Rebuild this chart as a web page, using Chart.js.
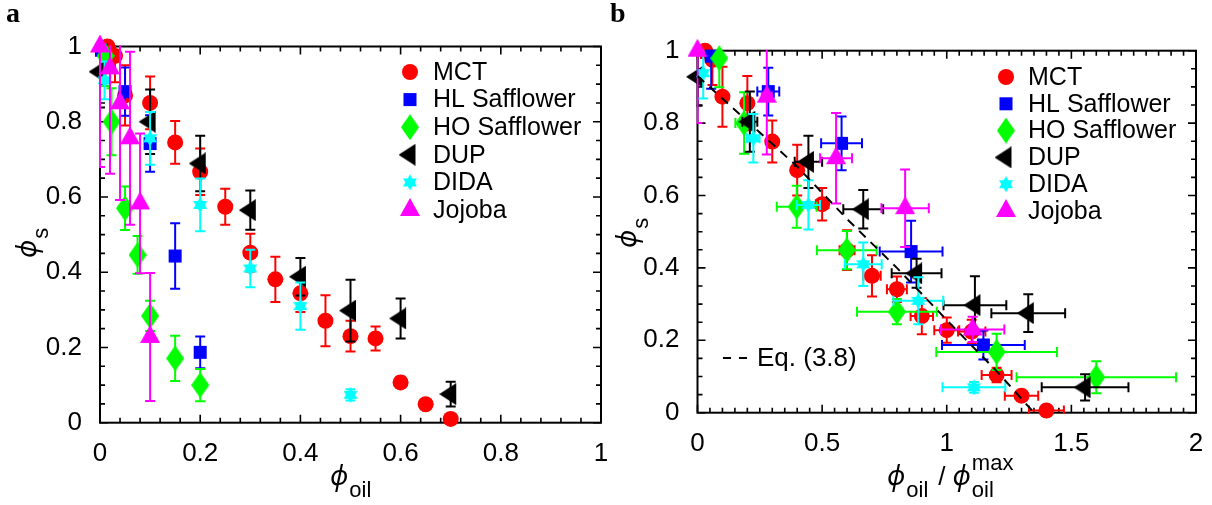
<!DOCTYPE html>
<html>
<head>
<meta charset="utf-8">
<script src="https://cdn.jsdelivr.net/npm/chart.js@4.4.1/dist/chart.umd.min.js"></script>
<style>
  body { margin: 0; background: #fff; }
  canvas { position: absolute; top: 0; }
  #panelA { left: 0; }
  #panelB { left: 606px; }
</style>
</head>
<body>
<canvas id="panelA" width="622" height="505"></canvas>
<canvas id="panelB" width="606" height="505"></canvas>
<script>
// legend order
const seriesNames = ['MCT', 'HL Safflower', 'HO Safflower', 'DUP', 'DIDA', 'Jojoba'];
const seriesColors = ['#ff0000', '#0000ff', '#00ff00', '#000000', '#00ffff', '#ff00ff'];

// --- panel a: phi_s vs phi_oil ---
const mctA_x = [0.015, 0.03, 0.05, 0.1, 0.15, 0.2, 0.25, 0.3, 0.35, 0.4, 0.45, 0.5, 0.55, 0.6, 0.65, 0.7];
const mctA_y = [1.0, 0.975, 0.87, 0.85, 0.745, 0.667, 0.574, 0.452, 0.381, 0.344, 0.271, 0.23, 0.224, 0.107, 0.049, 0.01];
const mctA_ey = [0.02, 0.07, 0.08, 0.07, 0.057, 0.062, 0.048, 0.05, 0.06, 0.05, 0.068, 0.041, 0.032, 0.015, 0.01, 0.005];

const hlA_x = [0.003, 0.05, 0.1, 0.15, 0.2];
const hlA_y = [0.99, 0.88, 0.742, 0.443, 0.187];
const hlA_ey = [0.04, 0.064, 0.075, 0.087, 0.042];

const hoA_x = [0.011, 0.023, 0.05, 0.075, 0.1, 0.15, 0.2];
const hoA_y = [0.975, 0.8, 0.57, 0.446, 0.284, 0.171, 0.1];
const hoA_ey = [0.08, 0.089, 0.058, 0.05, 0.04, 0.06, 0.043];

const dupA_x = [0.0, 0.1, 0.2, 0.3, 0.4, 0.5, 0.6, 0.7];
const dupA_y = [0.933, 0.8, 0.689, 0.565, 0.388, 0.298, 0.277, 0.076];
const dupA_ey = [0.095, 0.086, 0.074, 0.052, 0.05, 0.082, 0.053, 0.033];

const didaA_x = [0.009, 0.1, 0.2, 0.3, 0.4, 0.5];
const didaA_y = [0.91, 0.756, 0.579, 0.41, 0.31, 0.074];
const didaA_ey = [0.05, 0.07, 0.07, 0.05, 0.063, 0.015];

const jojA_x = [0.0, 0.02, 0.04, 0.06, 0.08, 0.1];
const jojA_y = [1.0, 0.942, 0.849, 0.756, 0.583, 0.228];
const jojA_ey = [0.32, 0.28, 0.257, 0.23, 0.186, 0.17];

// --- panel b: phi_s vs phi_oil / phi_oil^max ---
const mctB_x = [0.03, 0.06, 0.1, 0.2, 0.3, 0.4, 0.5, 0.6, 0.7, 0.8, 0.9, 1.0, 1.1, 1.2, 1.3, 1.4];
const mctB_y = [1.0, 0.975, 0.873, 0.855, 0.749, 0.67, 0.576, 0.449, 0.378, 0.341, 0.267, 0.228, 0.224, 0.104, 0.047, 0.006];
const mctB_ex = [0.002, 0.003, 0.005, 0.01, 0.015, 0.02, 0.025, 0.03, 0.035, 0.04, 0.045, 0.05, 0.055, 0.06, 0.067, 0.07];
const mctB_ey = [0.02, 0.07, 0.083, 0.075, 0.058, 0.07, 0.045, 0.055, 0.057, 0.035, 0.05, 0.035, 0.033, 0.02, 0.012, 0.005];

const hlB_x = [0.055, 0.284, 0.578, 0.857, 1.147];
const hlB_y = [0.985, 0.887, 0.744, 0.445, 0.187];
const hlB_ex = [0.003, 0.044, 0.082, 0.126, 0.166];
const hlB_ey = [0.09, 0.066, 0.074, 0.085, 0.04];

const hoB_x = [0.0875, 0.187, 0.398, 0.599, 0.8, 1.2, 1.6];
const hoB_y = [0.979, 0.8, 0.569, 0.449, 0.279, 0.168, 0.098];
const hoB_ex = [0.015, 0.035, 0.08, 0.12, 0.16, 0.242, 0.32];
const hoB_ey = [0.08, 0.085, 0.058, 0.053, 0.035, 0.05, 0.044];

const dupB_x = [0.0, 0.21, 0.445, 0.665, 0.879, 1.113, 1.327, 1.555];
const dupB_y = [0.928, 0.804, 0.693, 0.562, 0.385, 0.297, 0.275, 0.07];
const dupB_ex = [0.0, 0.03, 0.055, 0.08, 0.1, 0.126, 0.148, 0.174];
const dupB_ey = [0.08, 0.083, 0.072, 0.053, 0.04, 0.08, 0.052, 0.036];

const didaB_x = [0.023, 0.224, 0.445, 0.665, 0.886, 1.109];
const didaB_y = [0.938, 0.758, 0.574, 0.41, 0.309, 0.07];
const didaB_ex = [0.002, 0.025, 0.047, 0.074, 0.1, 0.126];
const didaB_ey = [0.07, 0.067, 0.068, 0.06, 0.065, 0.015];

const jojB_x = [0.0, 0.278, 0.556, 0.833, 1.104];
const jojB_y = [1.0, 0.873, 0.703, 0.565, 0.23];
const jojB_ex = [0.0, 0.02, 0.064, 0.095, 0.127];
const jojB_ey = [0.2, 0.16, 0.125, 0.107, 0.035];

// Eq. (3.8) curve
const eqX = [0, 0.2, 0.4, 0.6, 0.8, 1.0, 1.2, 1.35];
const eqY = [0.93, 0.805, 0.68, 0.535, 0.4, 0.256, 0.115, 0.0];

Chart.defaults.font.family = '"Liberation Sans", Arial, sans-serif';
Chart.defaults.color = '#000';

// filled marker shapes drawn once to small canvases
function shapeCanvas(w, h, color, polys) {
  const c = document.createElement('canvas');
  c.width = w; c.height = h;
  const g = c.getContext('2d');
  g.fillStyle = color;
  polys.forEach(p => {
    g.beginPath();
    p.forEach(([px, py], i) => i ? g.lineTo(px, py) : g.moveTo(px, py));
    g.closePath();
    g.fill();
  });
  return c;
}
const diamondMark = shapeCanvas(18, 26, '#00ff00', [[[9, 0], [18, 13], [9, 26], [0, 13]]]);
// triangles are padded so the centroid lands on the data point
const dupMark = shapeCanvas(23, 22, '#000000', [[[0, 11], [17, 0], [17, 22]]]);
const jojMark = shapeCanvas(20, 24, '#ff00ff', [[[10, 0], [20, 18], [0, 18]]]);
const didaMark = shapeCanvas(14, 16, '#00ffff', [[[7, 0], [14, 12], [0, 12]], [[0, 4], [14, 4], [7, 16]]]);

const seriesStyles = ['circle', 'rect', diamondMark, dupMark, didaMark, jojMark];
const seriesRadii = [8, 9.2, 9, 9, 9, 9];

function zip(xs, ys) {
  return xs.map((x, i) => ({x: x, y: ys[i]}));
}

function series(i, xs, ys, ey, ex) {
  return {
    label: seriesNames[i],
    data: zip(xs, ys),
    errY: ey,
    errX: ex,
    order: 6 - i,
    pointStyle: seriesStyles[i],
    pointRadius: seriesRadii[i],
    pointHoverRadius: seriesRadii[i],
    pointBorderWidth: 0,
    backgroundColor: seriesColors[i],
    borderColor: seriesColors[i],
    clip: false
  };
}

// box frame with inward major/minor ticks on all four sides
const frameTicks = {
  id: 'frameTicks',
  beforeDatasetsDraw(chart, args, opts) {
    const {ctx, chartArea: a} = chart;
    const sx = chart.scales.x, sy = chart.scales.y;
    ctx.save();
    ctx.strokeStyle = '#000';
    ctx.lineWidth = 2;
    ctx.strokeRect(a.left, a.top, a.right - a.left, a.bottom - a.top);
    ctx.lineWidth = 1.6;
    ctx.beginPath();
    const xMajor = sx.options.ticks.stepSize, yMajor = sy.options.ticks.stepSize;
    const nx = Math.round((sx.max - sx.min) / opts.xMinor);
    const kx = Math.round(xMajor / opts.xMinor);
    for (let i = 0; i <= nx; i++) {
      const px = sx.getPixelForValue(sx.min + i * opts.xMinor);
      const len = i % kx === 0 ? 8 : 5;
      ctx.moveTo(px, a.bottom); ctx.lineTo(px, a.bottom - len);
      ctx.moveTo(px, a.top); ctx.lineTo(px, a.top + len);
    }
    const ny = Math.round((sy.max - sy.min) / opts.yMinor);
    const ky = Math.round(yMajor / opts.yMinor);
    for (let i = 0; i <= ny; i++) {
      const py = sy.getPixelForValue(sy.min + i * opts.yMinor);
      const len = i % ky === 0 ? 8 : 5;
      ctx.moveTo(a.left, py); ctx.lineTo(a.left + len, py);
      ctx.moveTo(a.right, py); ctx.lineTo(a.right - len, py);
    }
    ctx.stroke();
    ctx.restore();
  }
};

// capped error bars, drawn just under each dataset's markers
const errorBars = {
  id: 'errorBars',
  beforeDatasetDraw(chart, args) {
    const ds = chart.data.datasets[args.index];
    if (!ds.errY && !ds.errX) return;
    const {ctx, chartArea: a} = chart;
    const sx = chart.scales.x, sy = chart.scales.y;
    const cap = 5;
    ctx.save();
    ctx.beginPath();
    ctx.rect(a.left - 1, a.top - 1, a.right - a.left + 2, a.bottom - a.top + 2);
    ctx.clip();
    ctx.strokeStyle = ds.backgroundColor;
    ctx.lineWidth = 2;
    ctx.beginPath();
    ds.data.forEach((p, i) => {
      const px = sx.getPixelForValue(p.x), py = sy.getPixelForValue(p.y);
      const ey = ds.errY ? ds.errY[i] : 0;
      if (ey > 0) {
        const y1 = sy.getPixelForValue(p.y + ey), y2 = sy.getPixelForValue(p.y - ey);
        ctx.moveTo(px, y1); ctx.lineTo(px, y2);
        ctx.moveTo(px - cap, y1); ctx.lineTo(px + cap, y1);
        ctx.moveTo(px - cap, y2); ctx.lineTo(px + cap, y2);
      }
      const ex = ds.errX ? ds.errX[i] : 0;
      if (ex > 0) {
        const x1 = sx.getPixelForValue(p.x - ex), x2 = sx.getPixelForValue(p.x + ex);
        ctx.moveTo(x1, py); ctx.lineTo(x2, py);
        ctx.moveTo(x1, py - cap); ctx.lineTo(x1, py + cap);
        ctx.moveTo(x2, py - cap); ctx.lineTo(x2, py + cap);
      }
    });
    ctx.stroke();
    ctx.restore();
  }
};

function seriesLegend(mx, tx, y0, dy) {
  return {
    id: 'seriesLegend',
    afterDatasetsDraw(chart) {
      const ctx = chart.ctx;
      ctx.save();
      ctx.font = '25px "Liberation Sans"';
      ctx.textBaseline = 'middle';
      seriesNames.forEach((name, i) => {
        const y = y0 + i * dy;
        ctx.fillStyle = seriesColors[i];
        Chart.helpers.drawPoint(ctx, {pointStyle: seriesStyles[i], radius: seriesRadii[i], borderWidth: 0, rotation: 0}, mx, y);
        ctx.fillStyle = '#000';
        ctx.fillText(name, tx, y + 1);
      });
      ctx.restore();
    }
  };
}

// phi with a subscript and an optional superscript; returns the end x
function phiSymbol(ctx, x, y, sub, sup) {
  ctx.font = 'italic 27px "Noto Sans", "DejaVu Sans"';
  ctx.fillText('\u03D5', x, y);
  const w = ctx.measureText('\u03D5').width;
  ctx.font = '22px "Liberation Sans"';
  const sx = x + w + 1;
  ctx.fillText(sub, sx, y + 12);
  let end = sx + ctx.measureText(sub).width;
  if (sup) {
    ctx.fillText(sup, sx, y - 15);
    end = Math.max(end, sx + ctx.measureText(sup).width);
  }
  return end;
}

function panelText(letter, yTitleX, yTitleY, drawXTitle) {
  return {
    id: 'panelText',
    afterDraw(chart) {
      const ctx = chart.ctx;
      ctx.save();
      ctx.fillStyle = '#000';
      ctx.textBaseline = 'alphabetic';
      ctx.font = 'bold 28px "Liberation Serif"';
      ctx.fillText(letter, letter === 'a' ? 6 : 4, 22);
      // rotated y title
      ctx.save();
      ctx.translate(yTitleX, yTitleY);
      ctx.rotate(-Math.PI / 2);
      phiSymbol(ctx, 0, 0, 's');
      ctx.restore();
      drawXTitle(ctx);
      ctx.restore();
    }
  };
}

// plain tick numbers: 0, 0.2, ..., 1
function plainTick(v) {
  return String(Number(v.toFixed(2)));
}

function scaleX(max, step, height) {
  return {
    type: 'linear', min: 0, max: max,
    grid: {display: false}, border: {display: false},
    ticks: {stepSize: step, font: {size: 26}, padding: 8, maxRotation: 0, autoSkip: false, callback: plainTick},
    afterFit(sc) { sc.height = height; sc.paddingLeft = 0; sc.paddingRight = 0; }
  };
}
function scaleY(width) {
  return {
    type: 'linear', min: 0, max: 1,
    grid: {display: false}, border: {display: false},
    ticks: {stepSize: 0.2, font: {size: 26}, padding: 10, callback: plainTick},
    afterFit(sc) { sc.width = width; sc.paddingTop = 0; sc.paddingBottom = 0; }
  };
}

const baseOptions = {
  responsive: false,
  animation: false,
  devicePixelRatio: 1,
  events: []
};

new Chart(document.getElementById('panelA'), {
  type: 'scatter',
  data: {
    datasets: [
      series(0, mctA_x, mctA_y, mctA_ey),
      series(1, hlA_x, hlA_y, hlA_ey),
      series(2, hoA_x, hoA_y, hoA_ey),
      series(3, dupA_x, dupA_y, dupA_ey),
      series(4, didaA_x, didaA_y, didaA_ey),
      series(5, jojA_x, jojA_y, jojA_ey)
    ]
  },
  options: Object.assign({}, baseOptions, {
    layout: {padding: {top: 46.5, right: 21, bottom: 0, left: 0}},
    scales: {x: scaleX(1, 0.2, 82.3), y: scaleY(100)},
    plugins: {
      legend: {display: false},
      tooltip: {enabled: false},
      frameTicks: {xMinor: 0.04, yMinor: 0.05}
    }
  }),
  plugins: [frameTicks, errorBars, seriesLegend(410, 433, 72, 27.6),
    panelText('a', 36, 258, ctx => { phiSymbol(ctx, 330, 485, 'oil'); })]
});

new Chart(document.getElementById('panelB'), {
  type: 'scatter',
  data: {
    datasets: [
      series(0, mctB_x, mctB_y, mctB_ey, mctB_ex),
      series(1, hlB_x, hlB_y, hlB_ey, hlB_ex),
      series(2, hoB_x, hoB_y, hoB_ey, hoB_ex),
      series(3, dupB_x, dupB_y, dupB_ey, dupB_ex),
      series(4, didaB_x, didaB_y, didaB_ey, didaB_ex),
      series(5, jojB_x, jojB_y, jojB_ey, jojB_ex),
      {
        label: 'Eq. (3.8)',
        data: zip(eqX, eqY),
        showLine: true,
        order: 0,
        pointRadius: 0,
        borderColor: '#000',
        borderWidth: 2,
        borderDash: [9, 7]
      }
    ]
  },
  options: Object.assign({}, baseOptions, {
    layout: {padding: {top: 50.7, right: 16, bottom: 0, left: 0}},
    scales: {x: scaleX(2, 0.5, 92.3), y: scaleY(91.5)},
    plugins: {
      legend: {display: false},
      tooltip: {enabled: false},
      frameTicks: {xMinor: 0.05, yMinor: 0.05}
    }
  }),
  plugins: [frameTicks, errorBars, seriesLegend(400, 422, 77, 26.8),
    panelText('b', 30, 248, ctx => {
      let x = phiSymbol(ctx, 281, 485, 'oil');
      ctx.font = '26px "Liberation Sans"';
      ctx.fillText('/', x + 10, 485);
      x += 10 + ctx.measureText('/').width + 7;
      phiSymbol(ctx, x, 485, 'oil', 'max');
      // dashed-line key
      ctx.save();
      ctx.strokeStyle = '#000';
      ctx.lineWidth = 2;
      ctx.setLineDash([8, 8]);
      ctx.beginPath();
      ctx.moveTo(117, 358); ctx.lineTo(141, 358);
      ctx.stroke();
      ctx.restore();
      ctx.font = '26px "Liberation Sans"';
      ctx.textBaseline = 'middle';
      ctx.fillText('Eq. (3.8)', 151, 359);
    })]
});
</script>
</body>
</html>
